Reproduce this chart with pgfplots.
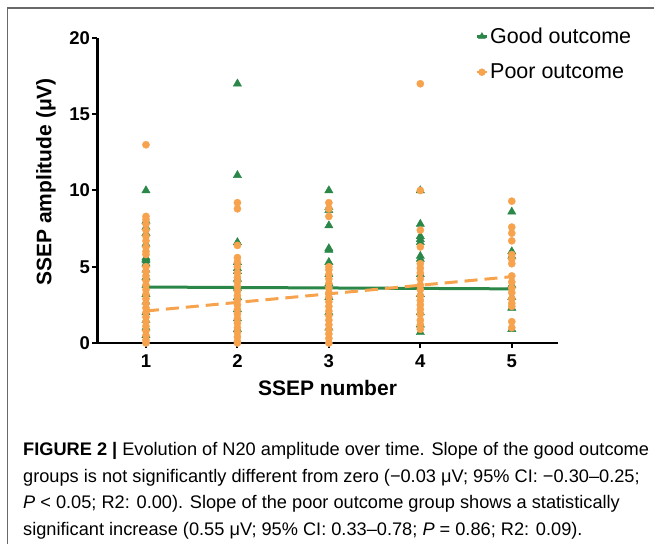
\documentclass[border=0pt]{standalone}
\usepackage{pgfplots}
\pgfplotsset{compat=1.18}
\usepackage{fontspec}
\setmainfont{Liberation Sans}
\newfontfamily\capfont{Liberation Sans}
\definecolor{goodc}{RGB}{42,135,72}
\definecolor{poorc}{RGB}{247,163,77}
\definecolor{framec}{RGB}{105,105,105}
\begin{document}
\begin{tikzpicture}[x=1pt,y=1pt]
\useasboundingbox (0pt,0pt) rectangle (654pt,544pt);
\fill[white] (0pt,0pt) rectangle (654pt,544pt);
\draw[framec,line width=1.5pt] (7.5pt,0pt) -- (7.5pt,536pt) -- (654pt,536pt);
\begin{axis}[
  at={(97.5pt,201pt)}, anchor=south west,
  scale only axis, width=460pt, height=305pt,
  xmin=0.47, xmax=5.5, ymin=0, ymax=20,
  axis x line*=bottom, axis y line*=left,
  axis line style={line width=2.5pt,-},
  xtick={1,2,3,4,5}, ytick={0,5,10,15,20},
  tick align=outside, major tick length=5pt,
  tick style={line width=2pt,black},
  /pgf/number format/assume math mode=true,
  ticklabel style={font=\fontsize{18.5}{18.5}\selectfont\bfseries},
  xticklabel style={yshift=-3pt},
  yticklabel style={xshift=1pt},
  xlabel={SSEP number}, ylabel={SSEP amplitude (μV)},
  label style={font=\fontsize{21}{21}\selectfont\bfseries},
  xlabel style={at={(axis description cs:0.5,-0.1475)}, anchor=center},
  ylabel style={at={(axis description cs:-0.112,0.528)}, anchor=center},
  clip=false,
  legend style={draw=none, fill=none, at={(axis description cs:1.165,1.04)}, anchor=north east,
    font=\fontsize{21.5}{21.5}\selectfont, row sep=15pt, inner sep=0pt,
    /tikz/every even column/.append style={column sep=5pt}},
  legend cell align=left,
]
\addlegendimage{legend image code/.code={\draw[goodc,line width=2.5pt] (0pt,0pt) -- (10pt,0pt); \draw[goodc, mark=triangle*, mark size=4pt, only marks] plot coordinates {(5pt,0pt)};}}
\addlegendentry{Good outcome}
\addlegendimage{legend image code/.code={\draw[poorc,line width=2.5pt] (0pt,0pt) -- (10pt,0pt); \draw[poorc, mark=*, mark size=3.5pt, only marks] plot coordinates {(5pt,0pt)};}}
\addlegendentry{Poor outcome}
% Good outcome
\addplot[forget plot, only marks, mark=triangle*, mark size=4.8pt, color=goodc] coordinates {
(1,10) (1,8.0) (1,7.6) (1,7.2) (1,6.5) (1,5.6) (1,5.5) (1,5.4) (1,5.2) (1,4.8) (1,4.3) (1,3.8) (1,3.2) (1,2.7) (1,2.0) (1,1.5) (1,1.0) (1,0.5)
(2,17) (2,11) (2,6.6) (2,5.3) (2,4.9) (2,4.7) (2,4.2) (2,3.6) (2,3.0) (2,2.2) (2,1.6) (2,0.9)
(3,10) (3,8.9) (3,8.7) (3,7.7) (3,6.2) (3,6.1) (3,5.3) (3,4.5) (3,3.9) (3,3.0) (3,2.0) (3,1.0)
(4,10) (4,7.8) (4,7.0) (4,6.8) (4,6.6) (4,5.7) (4,5.5) (4,4.5) (4,3.2) (4,2.0) (4,1.2) (4,0.7)
(5,8.6) (5,6.0) (5,5.7) (5,3.8) (5,3.0) (5,2.3) (5,0.9)
};
% Poor outcome
\addplot[forget plot, only marks, mark=*, mark size=3.6pt, color=poorc] coordinates {
(1,13) (1,8.3) (1,8.1) (1,7.8) (1,7.4) (1,7.0) (1,6.7) (1,6.3) (1,6.0) (1,5.8) (1,5.0) (1,4.7) (1,4.4) (1,4.1) (1,3.8) (1,3.5) (1,3.2) (1,2.9) (1,2.6) (1,2.3) (1,2.0) (1,1.7) (1,1.4) (1,1.1) (1,0.8) (1,0.5) (1,0.2) (1,0.0)
(2,9.2) (2,8.8) (2,6.4) (2,5.6) (2,5.3) (2,5.0) (2,4.6) (2,4.3) (2,4.0) (2,3.7) (2,3.4) (2,3.1) (2,2.8) (2,2.5) (2,2.2) (2,1.9) (2,1.6) (2,1.3) (2,1.0) (2,0.7) (2,0.4) (2,0.1) (2,0)
(3,9.2) (3,8.8) (3,8.3) (3,5.0) (3,4.8) (3,4.5) (3,4.2) (3,3.9) (3,3.6) (3,3.3) (3,3.0) (3,2.7) (3,2.4) (3,2.1) (3,1.8) (3,1.5) (3,1.2) (3,0.9) (3,0.6) (3,0.3) (3,0)
(4,17) (4,10) (4,7.4) (4,6.3) (4,5.2) (4,4.9) (4,4.6) (4,4.2) (4,3.8) (4,3.5) (4,3.1) (4,2.8) (4,2.5) (4,2.2) (4,1.9) (4,1.5) (4,1.2) (4,0.9)
(5,9.3) (5,7.6) (5,7.2) (5,6.7) (5,5.8) (5,5.5) (5,5.2) (5,4.4) (5,4.0) (5,3.6) (5,3.3) (5,2.9) (5,2.6) (5,2.4) (5,1.4) (5,1.0)
};
% regression lines
\addplot[forget plot, goodc, line width=3pt] coordinates {(0.97,3.67) (5,3.55)};
\addplot[forget plot, poorc, line width=3pt, dash pattern=on 13pt off 7pt] coordinates {(1,2.1) (5,4.35)};
\end{axis}
\begin{scope}[every node/.style={anchor=base west, inner sep=0pt, font=\capfont\fontsize{18.2}{18.2}\selectfont}]
\node at (23pt,88pt) {\textbf{FIGURE 2 |} Evolution of N20 amplitude over time. Slope of the good outcome};
\node at (23pt,61.5pt) {groups is not significantly different from zero (−0.03 μV; 95\% CI: −0.30–0.25;};
\node at (23pt,35pt) {\textit{P} < 0.05; R2: 0.00). Slope of the poor outcome group shows a statistically};
\node at (23pt,8.5pt) {significant increase (0.55 μV; 95\% CI: 0.33–0.78; \textit{P} = 0.86; R2: 0.09).};
\end{scope}
\end{tikzpicture}
\end{document}
